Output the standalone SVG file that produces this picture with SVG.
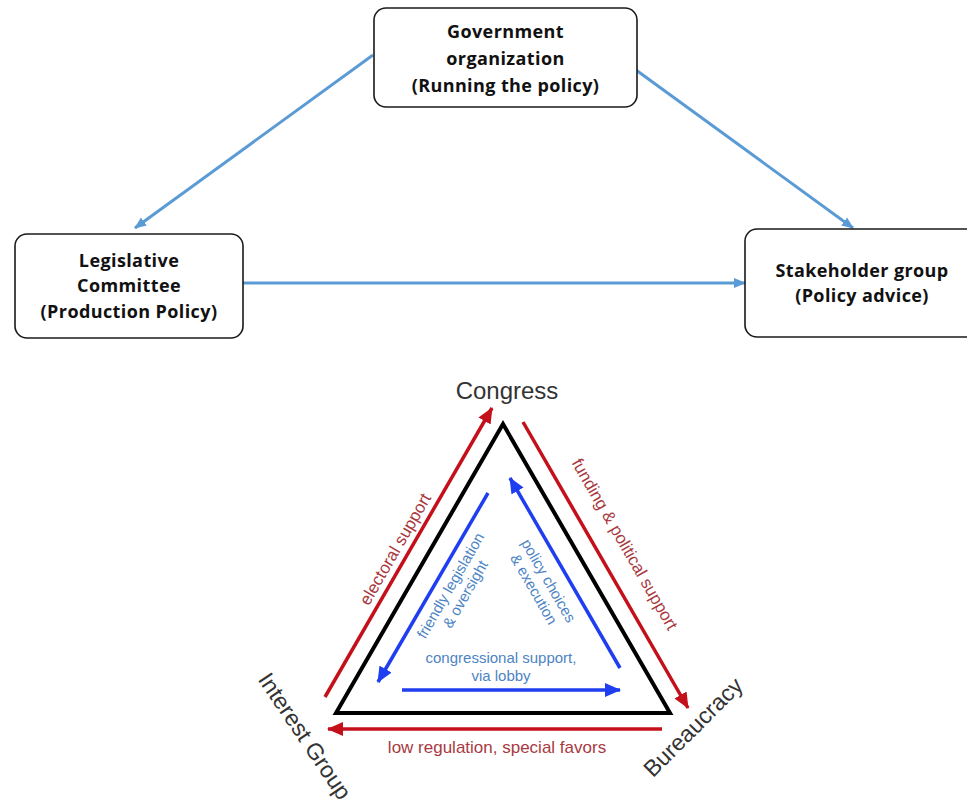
<svg xmlns="http://www.w3.org/2000/svg" width="967" height="803" viewBox="0 0 967 803">
<style>
.box{fill:#fff;stroke:#1a1a1a;stroke-width:1.6}
.bt{font-family:"Open Sans","Noto Sans","Liberation Sans",sans-serif;font-weight:bold;font-size:18px;letter-spacing:0.4px;fill:#111;text-anchor:middle}
.conn{stroke:#5b9bd5;stroke-width:3;fill:none}
.tri{fill:none;stroke:#000;stroke-width:4;stroke-linejoin:miter}
.red{stroke:#c4101a;stroke-width:3.5;fill:none}
.blue{stroke:#1f3ef0;stroke-width:3.5;fill:none}
.lab{font-family:"Liberation Sans",Arial,sans-serif;fill:#333;font-size:23px;text-anchor:middle}
.rt{font-family:"Liberation Sans",Arial,sans-serif;fill:#a83a3f;font-size:17px;text-anchor:middle}
.bl{font-family:"Liberation Sans",Arial,sans-serif;fill:#4d84c4;font-size:15px;text-anchor:middle}
</style>
<defs>
<marker id="ah" markerUnits="userSpaceOnUse" markerWidth="12" markerHeight="12" viewBox="0 0 12 12" refX="11" refY="6" orient="auto"><path d="M0,1 L12,6 L0,11 Z" fill="#5b9bd5"/></marker>
<marker id="ar" markerUnits="userSpaceOnUse" markerWidth="16" markerHeight="14" viewBox="0 0 16 14" refX="15" refY="7" orient="auto"><path d="M0,0 L16,7 L0,14 Z" fill="#c4101a"/></marker>
<marker id="ab" markerUnits="userSpaceOnUse" markerWidth="16" markerHeight="14" viewBox="0 0 16 14" refX="15" refY="7" orient="auto"><path d="M0,0 L16,7 L0,14 Z" fill="#1f3ef0"/></marker>
</defs>

<g id="connectors">
<line class="conn" x1="373" y1="55" x2="135" y2="228" marker-end="url(#ah)"/>
<line class="conn" x1="636" y1="70" x2="853" y2="228" marker-end="url(#ah)"/>
<line class="conn" x1="243" y1="283" x2="745" y2="283" marker-end="url(#ah)"/>
</g>

<g id="gov">
<rect class="box" x="374" y="8" width="263" height="99" rx="12"/>
<text class="bt" x="505.5" y="38">Government</text>
<text class="bt" x="505.5" y="65">organization</text>
<text class="bt" x="505.5" y="92">(Running the policy)</text>
</g>
<g id="legislative">
<rect class="box" x="15" y="234" width="228" height="104" rx="12"/>
<text class="bt" x="129" y="267">Legislative</text>
<text class="bt" x="129" y="292">Committee</text>
<text class="bt" x="129" y="318">(Production Policy)</text>
</g>
<g id="stakeholder">
<rect class="box" x="745" y="229" width="235" height="108" rx="12"/>
<text class="bt" x="862" y="277">Stakeholder group</text>
<text class="bt" x="862" y="302">(Policy advice)</text>
</g>

<g id="iron-triangle">
<polygon class="tri" points="503,424 336,713 670,713"/>
<line class="red" x1="325" y1="697" x2="492" y2="408" marker-end="url(#ar)"/>
<line class="red" x1="523" y1="422" x2="688" y2="708" marker-end="url(#ar)"/>
<line class="red" x1="662" y1="729" x2="328" y2="729" marker-end="url(#ar)"/>
<line class="blue" x1="488" y1="493" x2="378" y2="682" marker-end="url(#ab)"/>
<line class="blue" x1="620" y1="668" x2="510" y2="478" marker-end="url(#ab)"/>
<line class="blue" x1="402" y1="690" x2="620" y2="690" marker-end="url(#ab)"/>
</g>

<g id="congress"><text class="lab" x="507" y="399" style="font-size:24px">Congress</text></g>
<g id="interest-group"><text class="lab" transform="translate(305,736) rotate(56)" x="0" y="8">Interest Group</text></g>
<g id="bureaucracy"><text class="lab" transform="translate(693,727) rotate(-45)" x="0" y="8">Bureaucracy</text></g>

<g id="labels">
<text class="rt" transform="translate(395,549) rotate(-60)" x="0" y="6">electoral support</text>
<text class="rt" transform="translate(625,544) rotate(60)" x="0" y="6">funding &amp; political support</text>
<text class="rt" x="497" y="753">low regulation, special favors</text>
<g transform="translate(458,590) rotate(-60)">
<text class="bl" x="0" y="-3.5">friendly legislation</text>
<text class="bl" x="0" y="13.5">&amp; oversight</text>
</g>
<g transform="translate(541,585) rotate(60)">
<text class="bl" x="0" y="-3.5">policy choices</text>
<text class="bl" x="0" y="13.5">&amp; execution</text>
</g>
<text class="bl" x="501" y="663">congressional support,</text>
<text class="bl" x="501" y="681">via lobby</text>
</g>
</svg>
